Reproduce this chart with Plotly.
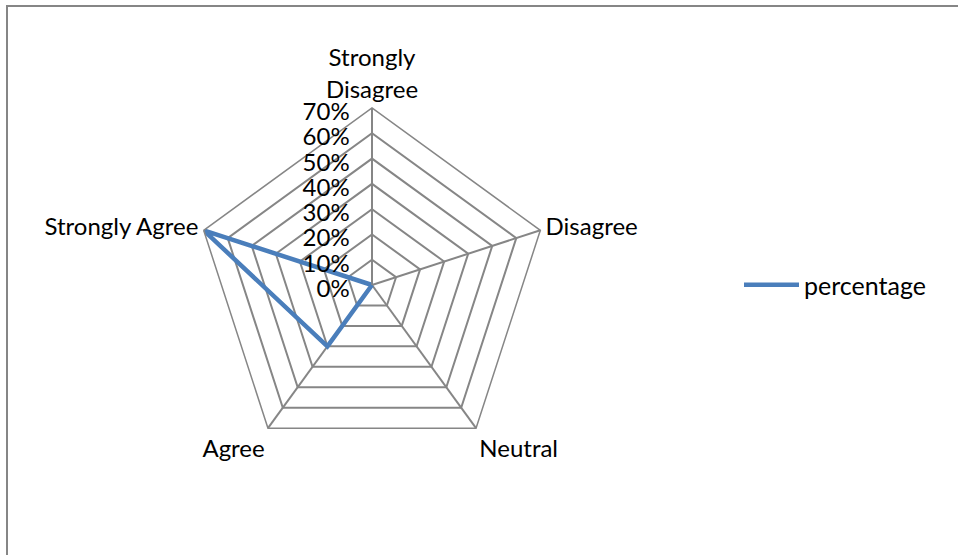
import plotly.graph_objects as go

categories = ["Strongly<br>Disagree", "Disagree", "Neutral", "Agree", "Strongly Agree"]
percentage = [0.0, 0.0, 0.0, 0.30, 0.70]
radial_ticks = [0, 0.1, 0.2, 0.3, 0.4, 0.5, 0.6, 0.7]
series_name = "percentage"

W, H = 958, 555
cx, cy, R = 372, 285, 177

fig = go.Figure()
fig.add_trace(go.Scatterpolar(
    r=percentage + [percentage[0]],
    theta=categories + [categories[0]],
    mode="lines",
    name=series_name,
    line=dict(color="#4A7EBB", width=4.5),
))

font_family = "Lato, Carlito, Calibri, sans-serif"
FS = 24
grid_col = "#868686"
fig.update_layout(
    width=W, height=H,
    margin=dict(l=0, r=0, t=0, b=0),
    paper_bgcolor="white",
    plot_bgcolor="white",
    font=dict(family=font_family, size=FS, color="black"),
    polar=dict(
        domain=dict(x=[(cx - R) / W, (cx + R) / W], y=[1 - (cy + R) / H, 1 - (cy - R) / H]),
        bgcolor="white",
        gridshape="linear",
        angularaxis=dict(
            rotation=90, direction="clockwise",
            showline=True, linecolor=grid_col, linewidth=1.5,
            gridcolor=grid_col, gridwidth=1.5,
            ticks="", tickfont=dict(size=FS, family=font_family, color="black"),
        ),
        radialaxis=dict(
            range=[0, 0.7], tickvals=radial_ticks, tickformat=".0%",
            angle=90, side="counterclockwise",
            showline=True, linecolor=grid_col, linewidth=1.5,
            gridcolor=grid_col, gridwidth=1.5,
            ticks="", tickfont=dict(size=FS, family=font_family, color="black"),
        ),
    ),
    showlegend=True,
    legend=dict(x=739 / W, y=1 - 285 / H, xanchor="left", yanchor="middle",
                itemwidth=55,
                font=dict(size=25, family=font_family, color="black"),
                bgcolor="rgba(0,0,0,0)"),
    shapes=[dict(type="rect", xref="paper", yref="paper",
                 x0=7 / W, x1=1.05, y0=-0.05, y1=1 - 6 / H,
                 line=dict(color=grid_col, width=2))],
)

fig.write_html("out.html", config={"displayModeBar": False},
               post_script="document.body.style.margin='0';document.body.style.overflow='hidden';")
